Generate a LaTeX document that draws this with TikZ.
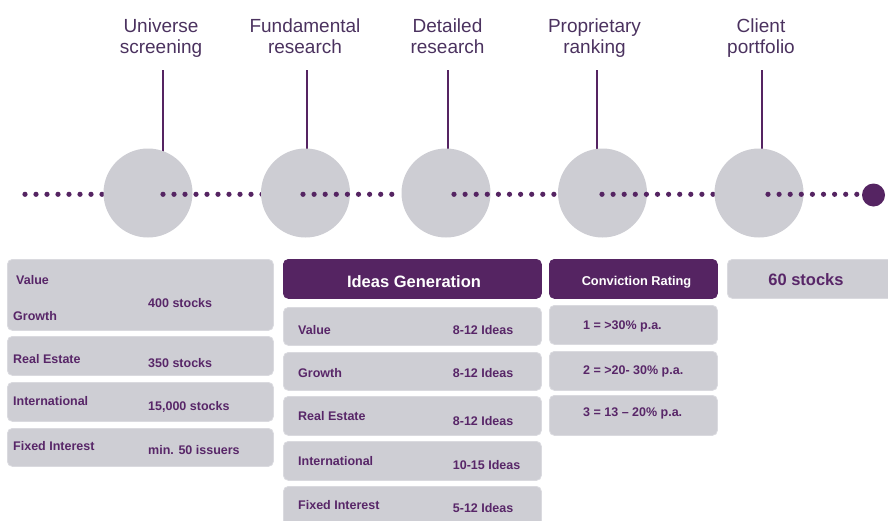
\documentclass[tikz,border=0pt]{standalone}
\usepackage{fontspec}
\setmainfont{Liberation Sans}
\definecolor{plum}{RGB}{85,36,98}
\definecolor{hubgray}{RGB}{205,205,211}
\definecolor{panelgray}{RGB}{206,206,212}
\definecolor{paneledge}{RGB}{218,218,223}
\definecolor{titleink}{RGB}{75,50,95}
\definecolor{ink}{RGB}{88,38,104}
\begin{document}
\begin{tikzpicture}[x=1pt,y=-1pt,
  stage/.style={font=\fontsize{19}{21.5}\selectfont, text=titleink, align=center, inner sep=0, anchor=north},
  hub/.style={circle, fill=hubgray, minimum size=89pt, inner sep=0},
  stem/.style={draw=plum, line width=2pt},
  panel/.style={fill=panelgray, draw=paneledge, line width=0.8pt, rounded corners=5pt, inner sep=0, anchor=north west},
  banner/.style={panel, fill=plum, draw=plum},
  lbl/.style={font=\bfseries\fontsize{12.5}{14}\selectfont, text=ink, inner sep=0, anchor=base west},
  head/.style={font=\bfseries\fontsize{16.5}{18}\selectfont, text=white, inner sep=0, anchor=base},
]
\useasboundingbox (0,0) rectangle (888,520);

% stage titles
\node[stage] (t1) at (161,17) {\strut Universe\\screening};
\node[stage] (t2) at (305,17) {\strut Fundamental\\research};
\node[stage] (t3) at (447.5,17) {\strut Detailed\\research};
\node[stage] (t4) at (594.5,17) {\strut Proprietary\\ranking};
\node[stage] (t5) at (761,17) {\strut Client\\portfolio};

% stems from the titles down to the hubs
\draw[stem] (163,70) -- (163,152);
\draw[stem] (307,70) -- (307,152);
\draw[stem] (448,70) -- (448,152);
\draw[stem] (597,70) -- (597,152);
\draw[stem] (762,70) -- (762,152);

% dotted timeline, each run laid before the hub that follows it
\foreach \cx/\s/\n/\d [count=\k] in {148/25/7/11, 305.5/163/9/11, 446/303/8/11.1, 602.5/454/9/11.1, 759/602/10/11.1}{
  \foreach \i in {0,...,\n}
    \fill[plum] (\s+\i*\d,194.3) circle (2.6);
  \node[hub] (c\k) at (\cx,193) {};
}
\foreach \i in {0,...,8}
  \fill[plum] (768+\i*11.1,194.3) circle (2.6);
\node[circle, fill=plum, minimum size=23pt, inner sep=0] (endpt) at (873.5,195) {};

% universe screening column
\node[panel, minimum width=266pt, minimum height=71pt] (u1) at (7,259) {};
\node[panel, minimum width=266pt, minimum height=39pt] (u2) at (7,336) {};
\node[panel, minimum width=266pt, minimum height=39pt] (u3) at (7,382) {};
\node[panel, minimum width=266pt, minimum height=38pt] (u4) at (7,428) {};
\node[lbl] (u1a) at (16,284.3) {Value};
\node[lbl] (u1b) at (13,320) {Growth};
\node[lbl] (u1c) at (148,307.3) {400 stocks};
\node[lbl] (u2a) at (13,363.3) {Real Estate};
\node[lbl] (u2b) at (148,367.3) {350 stocks};
\node[lbl] (u3a) at (13,405.7) {International};
\node[lbl] (u3b) at (148,410) {15,000 stocks};
\node[lbl] (u4a) at (13,450) {Fixed Interest};
\node[lbl] (u4b) at (148,454.3) {min. 50 issuers};

% ideas generation column
\node[banner, minimum width=258pt, minimum height=39pt] (g0) at (283,259) {};
\node[head] (g0t) at (414,287.5) {Ideas Generation};
\node[panel, minimum width=258pt, minimum height=38pt] (g1) at (283,307) {};
\node[panel, minimum width=258pt, minimum height=38pt] (g2) at (283,352) {};
\node[panel, minimum width=258pt, minimum height=39pt] (g3) at (283,396) {};
\node[panel, minimum width=258pt, minimum height=39pt] (g4) at (283,441) {};
\node[panel, minimum width=258pt, minimum height=42pt] (g5) at (283,486) {};
\node[lbl] (g1a) at (298,334) {Value};
\node[lbl] (g1b) at (452.7,334) {8-12 Ideas};
\node[lbl] (g2a) at (298,377.3) {Growth};
\node[lbl] (g2b) at (452.7,377.3) {8-12 Ideas};
\node[lbl] (g3a) at (298,420.7) {Real Estate};
\node[lbl] (g3b) at (452.7,425) {8-12 Ideas};
\node[lbl] (g4a) at (298,465) {International};
\node[lbl] (g4b) at (452.7,469) {10-15 Ideas};
\node[lbl] (g5a) at (298,509) {Fixed Interest};
\node[lbl] (g5b) at (452.7,512.3) {5-12 Ideas};

% conviction rating column
\node[banner, minimum width=168pt, minimum height=39pt] (r0) at (549,259) {};
\node[head, font=\bfseries\fontsize{12.8}{14}\selectfont] (r0t) at (636.5,285.7) {Conviction Rating};
\node[panel, minimum width=168pt, minimum height=39pt] (r1) at (549,305) {};
\node[panel, minimum width=168pt, minimum height=39pt] (r2) at (549,351) {};
\node[panel, minimum width=168pt, minimum height=40pt] (r3) at (549,395) {};
\node[lbl] (r1t) at (583,329) {1 = >30\% p.a.};
\node[lbl] (r2t) at (583,374) {2 = >20- 30\% p.a.};
\node[lbl] (r3t) at (583,416.7) {3 = 13 -- 20\% p.a.};

% client portfolio column
\node[panel, minimum width=170pt, minimum height=39pt] (p0) at (727,259) {};
\node[head, text=ink] (p0t) at (806,285.7) {60 stocks};
\end{tikzpicture}
\end{document}
